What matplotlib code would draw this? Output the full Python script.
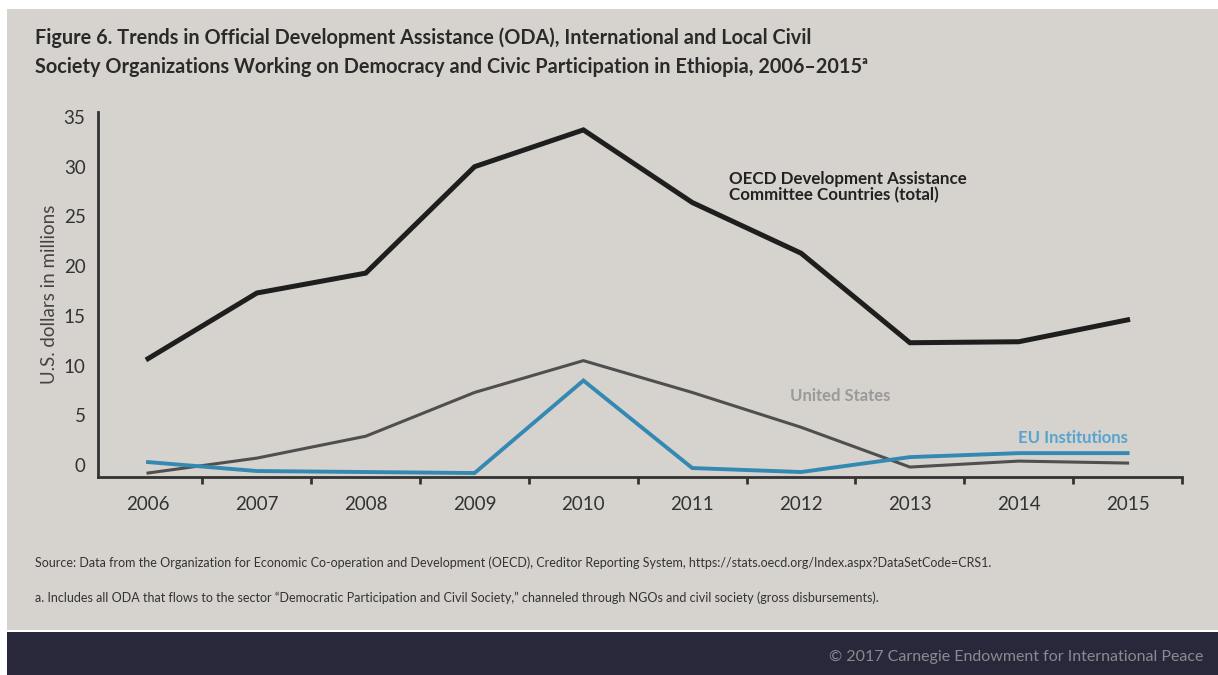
import matplotlib
matplotlib.use('Agg')
import matplotlib.pyplot as plt
from matplotlib.patches import Rectangle
import numpy as np

plt.rcParams['font.family'] = ['Lato', 'DejaVu Sans']

years = ['2006', '2007', '2008', '2009', '2010', '2011', '2012', '2013', '2014', '2015']
oecd_dac = [10.7, 17.3, 19.3, 30.0, 33.7, 26.4, 21.3, 12.3, 12.4, 14.6]
united_states = [-0.8, 0.7, 2.9, 7.3, 10.5, 7.3, 3.8, -0.2, 0.4, 0.2]
eu_institutions = [0.3, -0.6, -0.7, -0.8, 8.5, -0.3, -0.7, 0.8, 1.2, 1.2]
y_ticks = [0, 5, 10, 15, 20, 25, 30, 35]

bg = '#d6d3ce'
fig = plt.figure(figsize=(12.18, 6.75), dpi=100, facecolor='white')
# panel background and dark footer
fig.patches.append(Rectangle((7 / 1218, 45 / 675), 1 - 7 / 1218, 1 - 54 / 675,
                             transform=fig.transFigure, facecolor=bg, edgecolor='none', zorder=-5))
fig.patches.append(Rectangle((7 / 1218, 0), 1 - 7 / 1218, 43 / 675,
                             transform=fig.transFigure, facecolor='#29283a', edgecolor='none', zorder=-5))

ax = fig.add_axes([98 / 1218, 1 - 477 / 675, (1182 - 98) / 1218, (477 - 112) / 675])
ax.set_facecolor('none')
x = np.arange(len(years))

ax.plot(x, united_states, color='#4f4f4f', lw=2.2, zorder=3, solid_joinstyle='miter')
ax.plot(x, eu_institutions, color='#3489b3', lw=2.8, zorder=4, solid_joinstyle='miter')
ax.plot(x, oecd_dac, color='#1e1e1e', lw=3.6, zorder=5, solid_joinstyle='miter')

ax.set_xlim(-0.46, 9.5)
ax.set_ylim(-1.2, 35.5)
ax.set_xticks(x)
ax.set_xticklabels(years)
ax.set_xticks(x + 0.5, minor=True)
ax.tick_params(axis='x', which='major', length=0, pad=14, labelsize=13.5, labelcolor='#333333')
ax.tick_params(axis='x', which='minor', length=5, width=2, color='#333333', direction='out')
ax.set_yticks(y_ticks)
ax.tick_params(axis='y', length=0, pad=9, labelsize=13.5, labelcolor='#333333')
for s in ['top', 'right']:
    ax.spines[s].set_visible(False)
for s in ['left', 'bottom']:
    ax.spines[s].set_color('#333333')
    ax.spines[s].set_linewidth(2)
ax.set_ylabel('U.S. dollars in millions', fontsize=13.5, color='#444444', labelpad=4)

ax.text(5.34, 29.6, 'OECD Development Assistance\nCommittee Countries (total)',
        fontsize=12.2, color='#222222', fontweight='bold', va='top', ha='left', linespacing=1.0)
ax.text(5.9, 6.9, 'United States', fontsize=12, color='#9a9a9a', fontweight='bold', va='center')
ax.text(9.0, 2.7, 'EU Institutions', fontsize=12, color='#56a4cf', fontweight='bold', va='center', ha='right')

fig.text(35 / 1218, 1 - 52 / 675,
         'Figure 6. Trends in Official Development Assistance (ODA), International and Local Civil\n'
         'Society Organizations Working on Democracy and Civic Participation in Ethiopia, 2006\u20132015\u1d43',
         fontsize=14.3, fontweight='bold', color='#2a2a2a', va='center', ha='left', linespacing=1.55)

fig.text(35 / 1218, 1 - 563 / 675,
         'Source: Data from the Organization for Economic Co-operation and Development (OECD), Creditor Reporting System, '
         'https://stats.oecd.org/Index.aspx?DataSetCode=CRS1.',
         fontsize=9, color='#333333', va='center', ha='left')
fig.text(35 / 1218, 1 - 598 / 675,
         'a. Includes all ODA that flows to the sector \u201cDemocratic Participation and Civil Society,\u201d '
         'channeled through NGOs and civil society (gross disbursements).',
         fontsize=9, color='#333333', va='center', ha='left')
fig.text(1203 / 1218, 1 - 657 / 675, '\u00a9 2017 Carnegie Endowment for International Peace',
         fontsize=11.5, color='#8a8a92', va='center', ha='right')

fig.savefig('out.png', dpi=100, facecolor=fig.get_facecolor())
